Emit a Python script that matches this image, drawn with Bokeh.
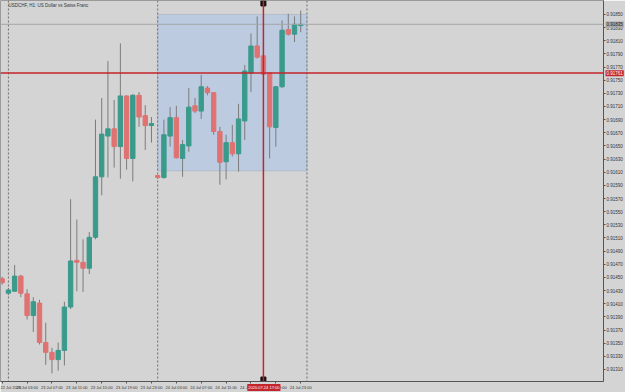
from bokeh.plotting import figure
from bokeh.models import (Range1d, FixedTicker, PrintfTickFormatter, Span, BoxAnnotation,
                          Label, ColumnDataSource)
from bokeh.embed import file_html
from bokeh.resources import INLINE

# ---------------- data (USDCHF, H1) ----------------
bar_index = list(range(49))
opens = [0.91448, 0.91426, 0.91429, 0.91452, 0.91425, 0.91392, 0.91411, 0.91351, 0.91336, 0.91325,
         0.91339, 0.91405, 0.91476, 0.91473, 0.91464, 0.91511, 0.91603, 0.91665, 0.91676, 0.91649,
         0.91726, 0.91631, 0.91727, 0.91696, 0.91681, 0.91605, 0.91602, 0.91665, 0.91693, 0.91631,
         0.91650, 0.91711, 0.91703, 0.91738, 0.91731, 0.91672, 0.91626, 0.91655, 0.91638, 0.91688,
         0.91761, 0.91802, 0.91787, 0.91761, 0.91678, 0.91740, 0.91827, 0.91820, 0.91833]
highs = [0.91451, 0.91434, 0.91469, 0.91454, 0.91432, 0.91420, 0.91416, 0.91381, 0.91343, 0.91351,
         0.91413, 0.91569, 0.91538, 0.91508, 0.91519, 0.91690, 0.91723, 0.91779, 0.91720, 0.91806,
         0.91727, 0.91729, 0.91732, 0.91712, 0.91694, 0.91606, 0.91690, 0.91709, 0.91711, 0.91659,
         0.91738, 0.91723, 0.91758, 0.91741, 0.91732, 0.91679, 0.91667, 0.91682, 0.91714, 0.91773,
         0.91821, 0.91847, 0.91788, 0.91762, 0.91741, 0.91841, 0.91851, 0.91847, 0.91856]
lows = [0.91439, 0.91423, 0.91428, 0.91420, 0.91386, 0.91367, 0.91348, 0.91317, 0.91304, 0.91308,
        0.91316, 0.91402, 0.91429, 0.91428, 0.91455, 0.91508, 0.91575, 0.91602, 0.91617, 0.91600,
        0.91614, 0.91596, 0.91679, 0.91644, 0.91655, 0.91600, 0.91600, 0.91649, 0.91631, 0.91603,
        0.91641, 0.91700, 0.91691, 0.91727, 0.91667, 0.91591, 0.91599, 0.91634, 0.91611, 0.91659,
        0.91732, 0.91783, 0.91758, 0.91631, 0.91649, 0.91738, 0.91818, 0.91808, 0.91823]
closes = [0.91442, 0.91431, 0.91452, 0.91426, 0.91392, 0.91413, 0.91351, 0.91336, 0.91325, 0.91339,
          0.91405, 0.91475, 0.91473, 0.91464, 0.91511, 0.91603, 0.91668, 0.91676, 0.91649, 0.91726,
          0.91631, 0.91727, 0.91694, 0.91681, 0.91684, 0.91602, 0.91667, 0.91693, 0.91632, 0.91652,
          0.91709, 0.91703, 0.91740, 0.91731, 0.91672, 0.91625, 0.91655, 0.91638, 0.91691, 0.91764,
          0.91802, 0.91785, 0.91759, 0.91679, 0.91740, 0.91826, 0.91820, 0.91835, 0.91835]

time_tick_bars = [0, 4, 8, 12, 16, 20, 24, 28, 32, 36, 40, 44, 48]
time_tick_labels = ["22 Jul 2020", "23 Jul 03:00", "23 Jul 07:00", "23 Jul 11:00", "23 Jul 15:00",
                    "23 Jul 19:00", "23 Jul 23:00", "24 Jul 03:00", "24 Jul 07:00", "24 Jul 11:00",
                    "24 Jul 15:00", "24 Jul 19:00", "24 Jul 23:00"]
price_ticks = [0.91850, 0.91830, 0.91810, 0.91790, 0.91770, 0.91750, 0.91730, 0.91710, 0.91690,
               0.91670, 0.91650, 0.91630, 0.91610, 0.91590, 0.91570, 0.91550, 0.91530, 0.91510,
               0.91490, 0.91470, 0.91450, 0.91430, 0.91410, 0.91390, 0.91370, 0.91350, 0.91330,
               0.91310]

title_text = "USDCHF, H1:  US Dollar vs Swiss Franc"
hline_price = 0.91761          # red horizontal line
bid_price = 0.91835            # grey bid line
rect_top, rect_bottom = 0.91850, 0.91612
rect_left_bar, rect_right_bar = 25, 49
separator_bars = [1, 25, 49]
vline_bar = 42
vline_label = "2020.07.24 17:00"

# ---------------- styling ----------------
BG = "#d4d4d4"
UP = "#3a9a8b"
DOWN = "#e07272"
WICK = "#7c7c7c"
RED = "#c4242b"
FONT = "Liberation Sans"
W, H = 625, 392
FRAME_W, FRAME_H = 604, 383

x0, x1 = -0.273, 96.68
y0, y1 = 0.912917, 0.918712

p = figure(width=W, height=H, x_range=Range1d(x0, x1), y_range=Range1d(y0, y1),
           output_backend="svg", toolbar_location=None, y_axis_location="right",
           min_border_left=0, min_border_top=0, min_border_right=0, min_border_bottom=0)
p.background_fill_color = BG
p.border_fill_color = BG
p.outline_line_color = "#9a9a9a"
p.grid.visible = False

# rectangle
p.add_layout(BoxAnnotation(left=rect_left_bar, right=rect_right_bar, top=rect_top, bottom=rect_bottom,
                           fill_color="#bccbe0", fill_alpha=1.0, line_color="#8893a3",
                           line_width=1, level="underlay"))

# separators
for b in separator_bars:
    p.add_layout(Span(location=b, dimension="height", line_color="#6e6e6e",
                      line_dash="2 2", line_width=1, level="underlay"))

# bid line
p.add_layout(Span(location=bid_price, dimension="width", line_color="#a6a6a6", line_width=1))

# candles
up_idx = [i for i in bar_index if closes[i] >= opens[i]]
dn_idx = [i for i in bar_index if closes[i] < opens[i]]
src = ColumnDataSource(dict(x=bar_index, o=opens, h=highs, l=lows, c=closes))
p.segment(x0="x", y0="h", x1="x", y1="l", source=src, color=WICK, line_width=1)
up = ColumnDataSource(dict(x=[bar_index[i] for i in up_idx], o=[opens[i] for i in up_idx],
                           c=[closes[i] for i in up_idx]))
dn = ColumnDataSource(dict(x=[bar_index[i] for i in dn_idx], o=[opens[i] for i in dn_idx],
                           c=[closes[i] for i in dn_idx]))
p.vbar(x="x", top="c", bottom="o", width=0.7, source=up, fill_color=UP, line_color=UP)
p.vbar(x="x", top="o", bottom="c", width=0.7, source=dn, fill_color=DOWN, line_color=DOWN)

# red horizontal + vertical lines
p.add_layout(Span(location=hline_price, dimension="width", line_color=RED, line_width=1.5))
p.add_layout(Span(location=vline_bar, dimension="height", line_color=RED, line_width=1.5))
p.scatter(x=[vline_bar, vline_bar], y=[0.918667, 0.912947], marker="square", size=5,
          color="#111111")

# title
p.add_layout(Label(x=1.0, y=0.918636, text=title_text, text_font=FONT, text_font_size="4.5px",
                   text_color="#333333", text_baseline="middle", text_align="left"))

# axes
yax = p.yaxis[0]
yax.ticker = FixedTicker(ticks=price_ticks)
yax.formatter = PrintfTickFormatter(format="%.5f")
xax = p.xaxis[0]
xax.ticker = FixedTicker(ticks=time_tick_bars)
xax.major_label_overrides = {b: t for b, t in zip(time_tick_bars, time_tick_labels)}
for ax in (xax, yax):
    ax.axis_line_color = "#555555"
    ax.axis_line_width = 1
    ax.major_tick_line_color = "#555555"
    ax.major_tick_out = 2
    ax.major_tick_in = 0
    ax.minor_tick_line_color = None
    ax.major_label_text_font = FONT
    ax.major_label_text_color = "#333333"
    ax.major_label_standoff = 1
yax.major_label_text_font_size = "4.5px"
xax.major_label_text_font_size = "4px"
xax.major_label_text_align = "left"

# ---- transparent overlay (second root) for the value boxes drawn on the axes ----
q = figure(width=W, height=H, x_range=Range1d(0, W), y_range=Range1d(H, 0),
           output_backend="svg", toolbar_location=None, x_axis_location=None,
           y_axis_location=None, min_border_left=0, min_border_top=0, min_border_right=0,
           min_border_bottom=0, styles={"position": "absolute", "left": "0px", "top": "0px"})
q.background_fill_alpha = 0
q.border_fill_alpha = 0
q.outline_line_color = None
q.grid.visible = False


def py(price):
    return (y1 - price) / (y1 - y0) * FRAME_H


def px(bar):
    return (bar - x0) / (x1 - x0) * FRAME_W


q.add_layout(Label(x=FRAME_W + 1, y=py(hline_price), text="%.5f" % hline_price,
                   text_font=FONT, text_font_size="4.5px", text_color="white",
                   background_fill_color=RED, text_baseline="middle", text_align="left", padding=1))
q.add_layout(Label(x=FRAME_W + 1, y=py(bid_price), text="%.5f" % bid_price,
                   text_font=FONT, text_font_size="4.5px", text_color="#222222",
                   background_fill_color="#a8a8a8", text_baseline="middle", text_align="left",
                   padding=1))
q.add_layout(Label(x=px(vline_bar), y=FRAME_H + 4, text=vline_label,
                   text_font=FONT, text_font_size="4px", text_color="white",
                   background_fill_color=RED, text_baseline="middle", text_align="center",
                   padding=1))

open("out.html", "w").write(file_html([p, q], INLINE))
